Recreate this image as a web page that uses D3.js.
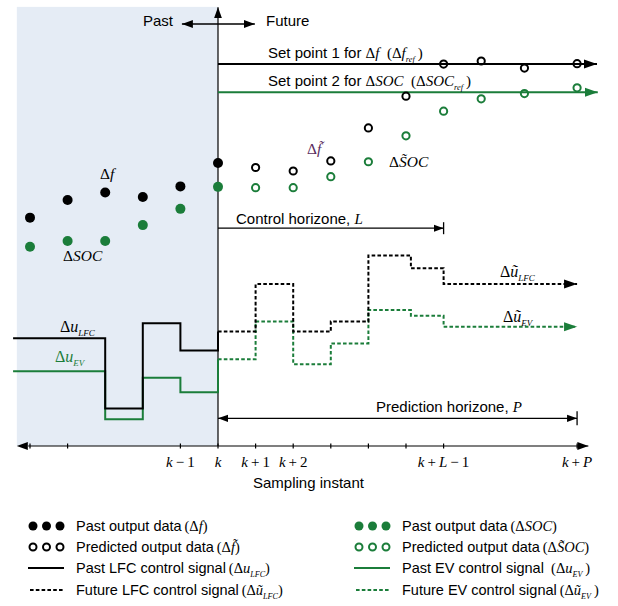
<!DOCTYPE html>
<html><head><meta charset="utf-8">
<script src="https://cdn.jsdelivr.net/npm/d3@7"></script>
<style>body{margin:0;background:#fff}</style>
</head><body>
<svg id="c" width="618" height="606"></svg>
<script>
// ---- data (step index relative to k, value in arbitrary units) ----
const pastSteps = [-5, -4, -3, -2, -1, 0];
const pastDf    = [51.9, 55.9, 57.6, 56.6, 59.0, 64.3];
const pastSOC   = [45.3, 46.6, 46.6, 50.2, 53.9, 58.9];
const predSteps = [1, 2, 3, 4, 5, 6, 7, 8.15, 9.55];
const predDf    = [63.3, 62.5, 64.8, 72.3, 79.5, 86.8, 87.5, 85.9, 86.9];
const predSOC   = [58.7, 58.7, 61.2, 64.6, 70.5, 76.1, 78.9, 80.1, 81.4];
const setpointDf = 86.8;
const setpointSOC = 80.4;
const pastUSteps = [-5.45, -3, -2, -1, 0];
const pastULFC   = [24.5, 8.5, 27.9, 21.7];
const pastUEV    = [17.0, 6.1, 15.5, 12.2];
const futUSteps  = [0, 1, 2, 3, 4, 5.13, 6, 9.55];
const futULFC    = [26.0, 36.8, 26.0, 28.3, 43.3, 40.4, 36.8];
const futUEV     = [19.7, 28.3, 18.6, 23.3, 30.9, 29.6, 27.1];
const tickSteps  = [-5, -4, -1, 0, 1, 2, 3, 4, 5, 6, 9.55];
const tickLabelSteps = [-1, 0, 1, 2, 6, 9.55];
const tickLabels = [["k","\u2009\u2212\u20091"],["k",""],["k","\u2009+\u20091"],["k","\u2009+\u20092"],["k","\u2009+\u2009","L","\u2009\u2212\u20091"],["k","\u2009+\u2009","P",""]];
const controlH = 6, predH = 9.55;

const BLACK = "#000", GREEN = "#1b7d3a", PURPLE = "#5b2c5e", SHADE = "#e5ecf5";
const SANS = "Liberation Sans, Arial, sans-serif", SERIF = "Liberation Serif, Times New Roman, serif";
const FS = 15;

const svg = d3.select("#c");
const x = d3.scaleLinear().domain([0, 1]).range([218, 255.6]);
const y = d3.scaleLinear().domain([0, 100]).range([446, 6]);

// markers
const defs = svg.append("defs");
function marker(id, color, len, hw, reverse) {
  defs.append("marker").attr("id", id).attr("markerUnits", "userSpaceOnUse")
    .attr("markerWidth", len + 2).attr("markerHeight", hw * 2 + 2)
    .attr("viewBox", `0 ${-hw - 1} ${len + 2} ${hw * 2 + 2}`)
    .attr("refX", reverse ? 0 : len).attr("refY", 0).attr("orient", "auto")
    .append("path").attr("d", reverse ? `M0,0L${len},${-hw}L${len},${hw}Z` : `M0,${-hw}L${len},0L0,${hw}Z`).attr("fill", color);
}
marker("aB", BLACK, 13, 4.5);
marker("aG", GREEN, 13, 4.5);
marker("aS", BLACK, 11, 4);
marker("aSr", BLACK, 11, 4, true);
marker("aT", BLACK, 10, 3.6);
marker("aTr", BLACK, 10, 3.6, true);

// shaded past region
svg.append("rect").attr("x", x(-5.35)).attr("y", y(99.8))
  .attr("width", x(0) - x(-5.35)).attr("height", y(0) - y(99.8)).attr("fill", SHADE);

// x axis
svg.append("line").attr("x1", x(-5.05)).attr("x2", x(9.85)).attr("y1", y(0)).attr("y2", y(0))
  .attr("stroke", BLACK).attr("stroke-width", 1.2).attr("marker-end", "url(#aS)");
svg.append("path").attr("d", `M${x(-5.35)},${y(0)}l11,-4l0,8Z`).attr("fill", BLACK);
svg.selectAll(".tick").data(tickSteps).enter().append("line")
  .attr("x1", d => x(d)).attr("x2", d => x(d)).attr("y1", y(0) - 2.5).attr("y2", y(0) + 2.5)
  .attr("stroke", BLACK).attr("stroke-width", 1.2);

// vertical axis at k
svg.append("line").attr("x1", x(0)).attr("x2", x(0)).attr("y1", y(0)).attr("y2", y(99.7))
  .attr("stroke", BLACK).attr("stroke-width", 1.2).attr("marker-end", "url(#aS)");

// rich text helper
function rich(g, px, py, parts, opts = {}) {
  const size = opts.size || FS;
  const t = g.append("text").attr("x", px).attr("y", py)
    .attr("text-anchor", opts.anchor || "start").attr("fill", opts.color || BLACK)
    .attr("font-size", size);
  let shift = 0;
  parts.forEach(([s, st]) => {
    const ts = t.append("tspan").text(s);
    if (st === "sans") ts.attr("font-family", SANS);
    else if (st === "r") ts.attr("font-family", SERIF);
    else if (st === "i") ts.attr("font-family", SERIF).attr("font-style", "italic");
    else if (st === "sub") ts.attr("font-family", SERIF).attr("font-style", "italic").attr("font-size", size * 0.56);
    if (st === "sub") { ts.attr("dy", 4 - shift); shift = 4; }
    else if (shift) { ts.attr("dy", -shift); shift = 0; }
  });
  return t;
}

// tick labels
tickLabelSteps.forEach((s, i) => {
  const p = tickLabels[i].map(str => [str, (str === "k" || str === "L" || str === "P") ? "i" : "r"]).filter(d => d[0] !== "");
  rich(svg, x(s), 467, p, { anchor: "middle", size: 15 });
});
rich(svg, 253, 488, [["Sampling instant", "sans"]]);

// Past <-> Future
svg.append("line").attr("x1", x(-0.96)).attr("x2", x(0.98)).attr("y1", y(95.9)).attr("y2", y(95.9))
  .attr("stroke", BLACK).attr("stroke-width", 1.6)
  .attr("marker-start", "url(#aSr)").attr("marker-end", "url(#aS)");
rich(svg, 143, 26, [["Past", "sans"]]);
rich(svg, 266, 26, [["Future", "sans"]]);

// set points
svg.append("line").attr("x1", x(0)).attr("x2", x(10.08)).attr("y1", y(setpointDf)).attr("y2", y(setpointDf))
  .attr("stroke", BLACK).attr("stroke-width", 2).attr("marker-end", "url(#aB)");
svg.append("line").attr("x1", x(0)).attr("x2", x(10.1)).attr("y1", y(setpointSOC)).attr("y2", y(setpointSOC))
  .attr("stroke", GREEN).attr("stroke-width", 2).attr("marker-end", "url(#aG)");
rich(svg, 268, 58, [["Set point 1 for ", "sans"], ["\u0394", "r"], ["f", "i"], ["\u2002(\u0394", "r"], ["f", "i"], ["ref", "sub"], ["\u2009)", "r"]]);
rich(svg, 268, 86, [["Set point 2 for ", "sans"], ["\u0394", "r"], ["SOC", "i"], ["\u2002(\u0394", "r"], ["SOC", "i"], ["ref", "sub"], ["\u2009)", "r"]]);

// control horizon
svg.append("line").attr("x1", x(0)).attr("x2", x(controlH)).attr("y1", y(49.5)).attr("y2", y(49.5))
  .attr("stroke", BLACK).attr("stroke-width", 1.3).attr("marker-end", "url(#aT)");
svg.append("line").attr("x1", x(controlH)).attr("x2", x(controlH)).attr("y1", y(49.5) - 6).attr("y2", y(49.5) + 6)
  .attr("stroke", BLACK).attr("stroke-width", 1.3);
rich(svg, 236, 224, [["Control horizone, ", "sans"], ["L", "i"]]);

// prediction horizon
svg.append("line").attr("x1", x(0)).attr("x2", x(predH)).attr("y1", y(6.3)).attr("y2", y(6.3))
  .attr("stroke", BLACK).attr("stroke-width", 1.3)
  .attr("marker-start", "url(#aTr)").attr("marker-end", "url(#aT)");
svg.append("line").attr("x1", x(predH)).attr("x2", x(predH)).attr("y1", y(6.3) - 7).attr("y2", y(6.3) + 7)
  .attr("stroke", BLACK).attr("stroke-width", 1.3);
rich(svg, 376, 412, [["Prediction horizone, ", "sans"], ["P", "i"]]);

// control signals
const stepLine = d3.line().x(d => x(d[0])).y(d => y(d[1])).curve(d3.curveStepAfter);
function stepPts(steps, vals, endVal) {
  const pts = vals.map((v, i) => [steps[i], v]);
  pts.push([steps[vals.length], vals[vals.length - 1]]);
  if (endVal !== undefined) pts.push([steps[vals.length], endVal]);
  return pts;
}
svg.append("path").attr("d", stepLine(stepPts(pastUSteps, pastUEV, futUEV[0])))
  .attr("fill", "none").attr("stroke", GREEN).attr("stroke-width", 2);
svg.append("path").attr("d", stepLine(stepPts(pastUSteps, pastULFC, futULFC[0])))
  .attr("fill", "none").attr("stroke", BLACK).attr("stroke-width", 2);
svg.append("path").attr("d", stepLine(stepPts(futUSteps, futUEV)))
  .attr("fill", "none").attr("stroke", GREEN).attr("stroke-width", 2).attr("stroke-dasharray", "3.6,2.2")
  .attr("marker-end", "url(#aG)");
svg.append("path").attr("d", stepLine(stepPts(futUSteps, futULFC)))
  .attr("fill", "none").attr("stroke", BLACK).attr("stroke-width", 2).attr("stroke-dasharray", "3.6,2.2")
  .attr("marker-end", "url(#aB)");

rich(svg, 60, 332, [["\u0394", "r"], ["u", "i"], ["LFC", "sub"]], { size: 16 });
rich(svg, 55, 362, [["\u0394", "r"], ["u", "i"], ["EV", "sub"]], { size: 16, color: GREEN });
rich(svg, 500, 277, [["\u0394", "r"], ["\u0169", "i"], ["LFC", "sub"]], { size: 16 });
rich(svg, 503, 322, [["\u0394", "r"], ["\u0169", "i"], ["EV", "sub"]], { size: 16 });

// output dots
svg.selectAll(".pdf").data(pastSteps).enter().append("circle")
  .attr("cx", d => x(d)).attr("cy", (d, i) => y(pastDf[i])).attr("r", 5).attr("fill", BLACK);
svg.selectAll(".psoc").data(pastSteps).enter().append("circle")
  .attr("cx", d => x(d)).attr("cy", (d, i) => y(pastSOC[i])).attr("r", 5).attr("fill", GREEN);
svg.selectAll(".fdf").data(predSteps).enter().append("circle")
  .attr("cx", d => x(d)).attr("cy", (d, i) => y(predDf[i])).attr("r", 3.6)
  .attr("fill", "none").attr("stroke", BLACK).attr("stroke-width", 2);
svg.selectAll(".fsoc").data(predSteps).enter().append("circle")
  .attr("cx", d => x(d)).attr("cy", (d, i) => y(predSOC[i])).attr("r", 3.6)
  .attr("fill", "none").attr("stroke", GREEN).attr("stroke-width", 2);

rich(svg, 100, 179, [["\u0394", "r"], ["f", "i"]], { size: 15.5 });
rich(svg, 63, 261, [["\u0394", "r"], ["SOC", "i"]], { size: 15.5 });
rich(svg, 307, 154, [["\u0394", "r"], ["f\u0303", "i"]], { size: 15.5, color: PURPLE });
rich(svg, 389, 167, [["\u0394", "r"], ["S\u0303OC", "i"]], { size: 15.5 });

// legend
const legendRowsY = [526, 547, 568, 590];
const legCols = [{ x0: 28, tx: 76, color: BLACK }, { x0: 354, tx: 402, color: GREEN }];
const legTexts = [
  [[["Past output data\u2009", "sans"], ["(\u0394", "r"], ["f", "i"], [")", "r"]],
   [["Predicted output data\u2009", "sans"], ["(\u0394", "r"], ["f\u0303", "i"], [")", "r"]],
   [["Past LFC control signal\u2009", "sans"], ["(\u0394", "r"], ["u", "i"], ["LFC", "sub"], [")", "r"]],
   [["Future LFC control signal\u2009", "sans"], ["(\u0394", "r"], ["\u0169", "i"], ["LFC", "sub"], [")", "r"]]],
  [[["Past output data\u2009", "sans"], ["(\u0394", "r"], ["SOC", "i"], [")", "r"]],
   [["Predicted output data\u2009", "sans"], ["(\u0394", "r"], ["S\u0303OC", "i"], [")", "r"]],
   [["Past EV control signal\u2002", "sans"], ["(\u0394", "r"], ["u", "i"], ["EV", "sub"], ["\u2009)", "r"]],
   [["Future EV control signal\u2009", "sans"], ["(\u0394", "r"], ["\u0169", "i"], ["EV", "sub"], ["\u2009)", "r"]]]
];
legCols.forEach((c, ci) => {
  const g = svg.append("g");
  [0, 1, 2].forEach(k => {
    g.append("circle").attr("cx", c.x0 + 5 + k * 13.5).attr("cy", legendRowsY[0]).attr("r", 4.5).attr("fill", c.color);
    g.append("circle").attr("cx", c.x0 + 5 + k * 13.5).attr("cy", legendRowsY[1]).attr("r", 3.5)
      .attr("fill", "none").attr("stroke", c.color).attr("stroke-width", 2);
  });
  g.append("line").attr("x1", c.x0).attr("x2", c.x0 + 36).attr("y1", legendRowsY[2]).attr("y2", legendRowsY[2])
    .attr("stroke", c.color).attr("stroke-width", 2);
  g.append("line").attr("x1", c.x0 + 2).attr("x2", c.x0 + 36).attr("y1", legendRowsY[3]).attr("y2", legendRowsY[3])
    .attr("stroke", c.color).attr("stroke-width", 2).attr("stroke-dasharray", "3.6,2.2");
  legTexts[ci].forEach((parts, r) => rich(g, c.tx, legendRowsY[r] + 5, parts, { size: 14.5 }));
});
</script>
</body></html>
